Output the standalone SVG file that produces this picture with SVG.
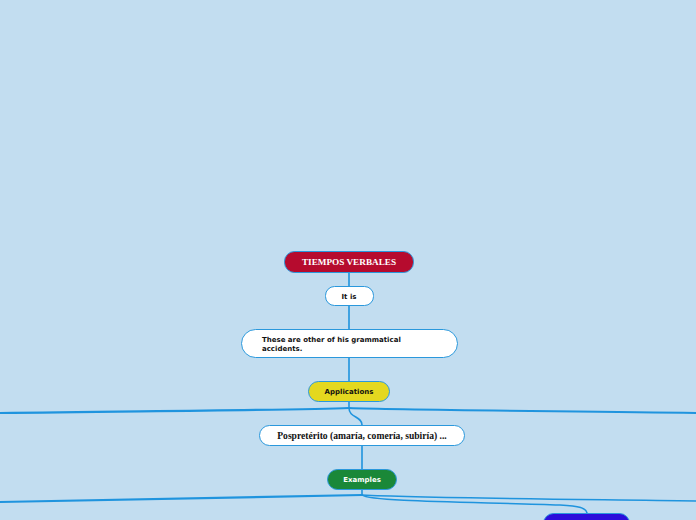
<svg xmlns="http://www.w3.org/2000/svg" width="696" height="520" viewBox="0 0 696 520">
<style>
.bg{fill:#c2ddf0}
.node{stroke:#2a98dc;stroke-width:1}
.w{fill:#ffffff}
.conn{fill:none;stroke:#1f94de;stroke-width:1.6;stroke-linecap:round}
.thick{stroke-width:2.2}
.sans{font-family:"DejaVu Sans","Liberation Sans",sans-serif;font-weight:bold;font-size:7px}
.serif{font-family:"Liberation Serif","DejaVu Serif",serif;font-weight:bold}
</style>
<rect class="bg" x="0" y="0" width="696" height="520"/>
<g id="connectors">
<path class="conn" d="M349,272 L349,286"/>
<path class="conn" d="M349,305 L349,329"/>
<path class="conn" d="M349,357 L349,381"/>
<path class="conn" d="M349,401 L349,408"/>
<path class="conn thick" d="M349,408 C300,410 150,411 0,413"/>
<path class="conn thick" d="M349,408 C400,410 550,411 696,413"/>
<path class="conn" d="M349,408 C349,418 362,416 362,425"/>
<path class="conn" d="M362,445 L362,469"/>
<path class="conn" d="M362,489 L362,495"/>
<path class="conn thick" d="M362,495 C300,497 150,500 0,502"/>
<path class="conn" d="M362,495 C420,498 550,499 696,501"/>
<path class="conn" d="M362,495 C370,502 480,502 560,505 C580,506 586,508 587,513"/>
</g>
<g id="n-tiempos">
<rect class="node" x="284.5" y="251.5" width="129" height="21" rx="10" fill="#b60b2e"/>
<text class="serif" x="349" y="265" font-size="9.2" fill="#ffffff" text-anchor="middle">TIEMPOS VERBALES</text>
</g>
<g id="n-itis">
<rect class="node w" x="325.5" y="286.5" width="48" height="19" rx="9"/>
<text class="sans" x="349" y="299" fill="#111111" text-anchor="middle">It is</text>
</g>
<g id="n-these">
<rect class="node w" x="241.5" y="329.5" width="216" height="28" rx="14"/>
<text class="sans" x="262" y="342" fill="#111111">These are other of his grammatical</text>
<text class="sans" x="262" y="351" fill="#111111">accidents.</text>
</g>
<g id="n-applications">
<rect class="node" x="308.5" y="381.5" width="81" height="20" rx="10" fill="#e4d81f"/>
<text class="sans" x="349" y="394" fill="#111111" text-anchor="middle">Applications</text>
</g>
<g id="n-pospreterito">
<rect class="node w" x="259.5" y="425.5" width="205" height="20" rx="10"/>
<text class="serif" x="362" y="438.5" font-size="9.6" fill="#111111" text-anchor="middle">Pospretérito (amaría, comería, subiría) ...</text>
</g>
<g id="n-examples">
<rect class="node" x="327.5" y="469.5" width="69" height="20" rx="10" fill="#1a8838"/>
<text class="sans" x="362" y="482" fill="#ffffff" text-anchor="middle">Examples</text>
</g>
<g id="n-blue">
<rect class="node" x="543.5" y="513.5" width="86" height="20" rx="10" fill="#2c0edb"/>
</g>
</svg>
